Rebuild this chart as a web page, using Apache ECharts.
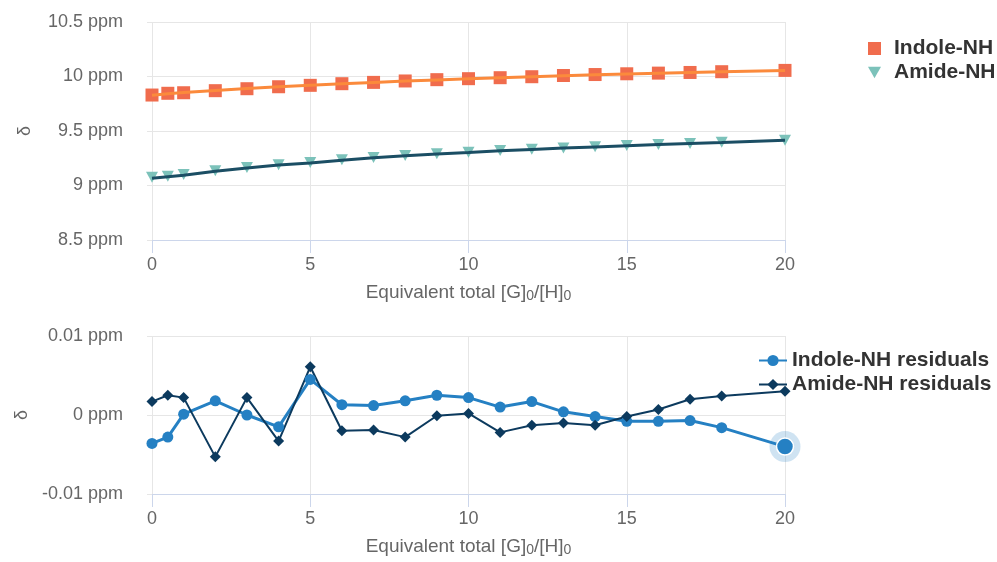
<!DOCTYPE html>
<html>
<head>
<meta charset="utf-8">
<script src="https://cdn.jsdelivr.net/npm/echarts@6/dist/echarts.min.js"></script>
<style>
html,body{margin:0;padding:0;background:#fff;}
#chart{width:997px;height:562px;}
</style>
</head>
<body>
<div id="chart"></div>
<script>
// 滴定数据: 当量 [G]0/[H]0
var xVals=[0,0.5,1,2,3,4,5,6,7,8,9,10,11,12,13,14,15,16,17,18,20];

// 化学位移 (ppm)
var indoleObs=[9.830,9.846,9.851,9.870,9.888,9.906,9.919,9.934,9.946,9.959,9.971,9.980,9.989,9.998,10.009,10.018,10.025,10.031,10.037,10.044,10.056];
var indoleFit=[9.828,9.842,9.853,9.872,9.890,9.905,9.920,9.933,9.946,9.958,9.969,9.979,9.989,9.998,10.007,10.015,10.022,10.029,10.036,10.043,10.055];
var amideObs=[9.075,9.085,9.100,9.135,9.165,9.190,9.210,9.237,9.258,9.276,9.291,9.306,9.320,9.333,9.345,9.356,9.366,9.376,9.386,9.396,9.416];
var amideFit=[9.066,9.080,9.094,9.130,9.161,9.188,9.207,9.232,9.254,9.272,9.289,9.303,9.318,9.331,9.343,9.354,9.365,9.376,9.386,9.395,9.414];

// 残差 (ppm)
var indoleRes=[-0.0036,-0.0028,0.0001,0.0018,0.0000,-0.0015,0.0045,0.0013,0.0012,0.0018,0.0025,0.0022,0.0010,0.0017,0.0004,-0.0002,-0.0008,-0.0008,-0.0007,-0.0016,-0.0040];
var amideRes=[0.0017,0.0025,0.0022,-0.0053,0.0022,-0.0033,0.0061,-0.0020,-0.0019,-0.0028,-0.0001,0.0002,-0.0022,-0.0013,-0.0010,-0.0013,-0.0002,0.0007,0.0020,0.0024,0.0030];

var xName='Equivalent total [G]{s|0}/[H]{s|0}';
var fontFam='"Liberation Sans", Arial, sans-serif';

function pairs(ys){
    var out=[];
    for(var i=0;i<xVals.length;i++){
        out.push([xVals[i],ys[i]]);
    }
    return out;
}

function makeX(idx){
    return {
        type:'value',gridIndex:idx,min:0,max:20,interval:5,
        name:xName,nameLocation:'middle',nameGap:43,
        nameTextStyle:{color:'#666',fontSize:19,fontFamily:fontFam,lineHeight:20,
            rich:{s:{fontSize:14,color:'#666',fontFamily:fontFam,verticalAlign:'bottom',lineHeight:20}}},
        axisLine:{onZero:false,lineStyle:{color:'#ccd6eb',width:1}},
        axisTick:{show:true,length:13,lineStyle:{color:'#ccd6eb'}},
        axisLabel:{margin:16,color:'#666',fontSize:18,fontFamily:fontFam},
        splitLine:{show:true,lineStyle:{color:'#e6e6e6'}}
    };
}

function makeY(idx,min,max,step){
    return {
        type:'value',gridIndex:idx,min:min,max:max,interval:step,
        name:'δ',nameLocation:'middle',nameGap:118,nameRotate:90,
        nameTextStyle:{color:'#666',fontSize:18,fontFamily:fontFam},
        axisLine:{show:false,onZero:false},
        axisTick:{show:true,length:5,lineStyle:{color:'#e6e6e6'}},
        axisLabel:{margin:29,color:'#666',fontSize:18,fontFamily:fontFam,
            formatter:function(v){return v+' ppm';}},
        splitLine:{show:true,lineStyle:{color:'#e6e6e6'}}
    };
}

var resData=pairs(indoleRes);
var last=resData.length-1;
resData[last]={value:resData[last],symbolSize:17,itemStyle:{borderColor:'#fff',borderWidth:1.5}};

var legendText={fontSize:21,fontWeight:'bold',color:'#333',lineHeight:21,fontFamily:fontFam};

var myChart=echarts.init(document.getElementById('chart'));
var option={
    animation:false,
    backgroundColor:'#fff',
    grid:[
        {left:152,width:633,top:22,height:218},
        {left:152,width:633,top:336,height:158}
    ],
    xAxis:[makeX(0),makeX(1)],
    yAxis:[makeY(0,8.5,10.5,0.5),makeY(1,-0.01,0.01,0.01)],
    legend:[{
        data:['Indole-NH','Amide-NH'],
        orient:'vertical',left:863,top:33,
        itemWidth:13,itemHeight:13,itemGap:3,
        textStyle:Object.assign({padding:[0,0,0,8]},legendText)
    },{
        data:['Indole-NH residuals','Amide-NH residuals'],
        orient:'vertical',left:753,top:345,
        itemWidth:28,itemHeight:14,itemGap:3,
        textStyle:legendText
    }],
    series:[{
        name:'Indole-NH',type:'scatter',xAxisIndex:0,yAxisIndex:0,
        symbol:'rect',symbolSize:13,
        itemStyle:{color:'#f06c4d',opacity:1},
        data:pairs(indoleObs)
    },{
        name:'Amide-NH',type:'scatter',xAxisIndex:0,yAxisIndex:0,
        symbol:'path://M0,0L10,0L5,9Z',symbolSize:[12,11],
        itemStyle:{color:'#7cc2ba',opacity:1},
        data:pairs(amideObs)
    },{
        name:'Indole-NH fit',type:'line',xAxisIndex:0,yAxisIndex:0,
        showSymbol:false,
        lineStyle:{color:'#fb8a3c',width:3},
        itemStyle:{color:'#fb8a3c'},
        data:pairs(indoleFit)
    },{
        name:'Amide-NH fit',type:'line',xAxisIndex:0,yAxisIndex:0,
        showSymbol:false,
        lineStyle:{color:'#1b4e64',width:3},
        itemStyle:{color:'#1b4e64'},
        data:pairs(amideFit)
    },{
        name:'Indole-NH residuals',type:'line',xAxisIndex:1,yAxisIndex:1,
        symbol:'circle',symbolSize:11,
        lineStyle:{color:'#2580c3',width:3},
        itemStyle:{color:'#2580c3'},
        data:resData
    },{
        name:'halo',type:'scatter',xAxisIndex:1,yAxisIndex:1,
        symbol:'circle',symbolSize:31,silent:true,
        itemStyle:{color:'rgba(37,128,195,0.22)',opacity:1},
        data:[pairs(indoleRes)[last]]
    },{
        name:'Amide-NH residuals',type:'line',xAxisIndex:1,yAxisIndex:1,
        symbol:'diamond',symbolSize:11,
        lineStyle:{color:'#0c3a5e',width:2},
        itemStyle:{color:'#0c3a5e'},
        data:pairs(amideRes)
    }]
};
myChart.setOption(option);
</script>
</body>
</html>
